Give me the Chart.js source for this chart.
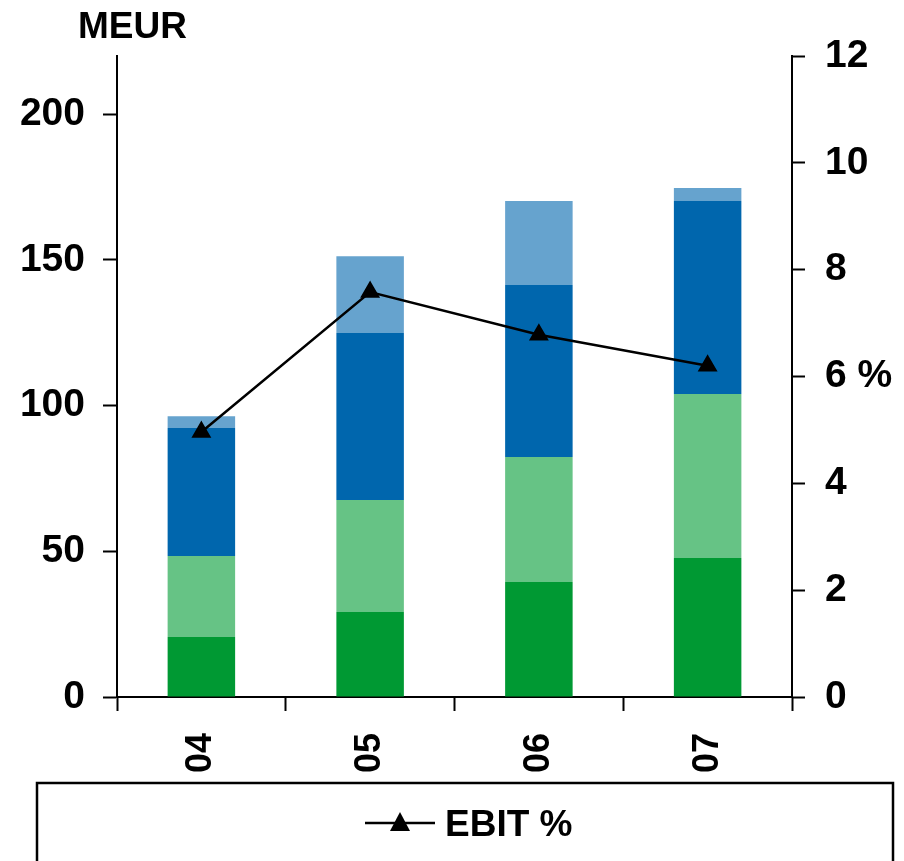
<!DOCTYPE html>
<html>
<head>
<meta charset="utf-8">
<script src="https://cdn.jsdelivr.net/npm/chart.js@4"></script>
<style>
  html, body { margin: 0; padding: 0; background: #fff; }
  #wrap { width: 904px; height: 861px; position: relative; }
</style>
</head>
<body>
<div id="wrap"><canvas id="chart"></canvas></div>
<script>
const years = ["04", "05", "06", "07"];
const darkGreen = [20.6, 29.2, 39.5, 47.7];
const lightGreen = [27.8, 38.4, 42.9, 56.3];
const darkBlue = [43.9, 57.3, 59.0, 66.2];
const lightBlue = [4.1, 26.4, 28.8, 4.5];
const ebitPct = [4.96, 7.58, 6.78, 6.2];

const leftTicks = [0, 50, 100, 150, 200];
const rightTicks = [0, 2, 4, 6, 8, 10, 12];

Chart.defaults.font.family = "'Liberation Sans', Arial, sans-serif";
Chart.defaults.font.weight = "bold";
Chart.defaults.color = "#000";

const tickFont = { size: 39, weight: "bold" };
const xFont = { size: 36, weight: "bold" };

const bar = (label, data, color) => ({
  type: "bar",
  label,
  data,
  backgroundColor: color,
  borderWidth: 0,
  yAxisID: "y",
  order: 1,
  barPercentage: 0.4,
  categoryPercentage: 1,
});

// "MEUR" label + legend box
const extras = {
  id: "extras",
  afterDraw(chart) {
    const ctx = chart.ctx;
    ctx.save();
    ctx.fillStyle = "#000";
    ctx.font = "bold 37px 'Liberation Sans', Arial";
    ctx.textBaseline = "alphabetic";
    ctx.textAlign = "left";
    ctx.fillText("MEUR", 78, 38);

    ctx.strokeStyle = "#000";
    ctx.lineWidth = 2.5;
    ctx.strokeRect(37, 783, 856, 120);

    const ds = chart.data.datasets[4];
    ctx.strokeStyle = ds.borderColor;
    ctx.lineWidth = ds.borderWidth;
    ctx.beginPath();
    ctx.moveTo(365, 823);
    ctx.lineTo(435, 823);
    ctx.stroke();
    ctx.fillStyle = ds.pointBackgroundColor;
    ctx.beginPath();
    ctx.moveTo(400, 812);
    ctx.lineTo(410, 831);
    ctx.lineTo(390, 831);
    ctx.closePath();
    ctx.fill();

    ctx.fillStyle = "#000";
    ctx.font = "bold 37px 'Liberation Sans', Arial";
    ctx.fillText(ds.label, 445, 836);
    ctx.restore();
  },
};

new Chart(document.getElementById("chart"), {
  data: {
    labels: years,
    datasets: [
      bar("a", darkGreen, "rgb(0,153,51)"),
      bar("b", lightGreen, "rgb(102,195,133)"),
      bar("c", darkBlue, "rgb(0,102,173)"),
      bar("d", lightBlue, "rgb(102,163,206)"),
      {
        type: "line",
        label: "EBIT %",
        data: ebitPct,
        yAxisID: "y1",
        order: 0,
        borderColor: "#000",
        borderWidth: 2.5,
        pointStyle: "triangle",
        pointRadius: 9,
        pointBackgroundColor: "#000",
        pointBorderColor: "#000",
        tension: 0,
      },
    ],
  },
  options: {
    responsive: true,
    maintainAspectRatio: false,
    animation: false,
    layout: { padding: { top: 56, bottom: 81, left: 0, right: 0 } },
    plugins: {
      legend: { display: false },
      tooltip: { enabled: false },
    },
    scales: {
      x: {
        stacked: true,
        afterFit: (s) => { s.height = 83; },
        border: { display: true, color: "#000", width: 2 },
        grid: {
          offset: true,
          drawOnChartArea: false,
          drawTicks: true,
          tickLength: 14,
          tickColor: "#000",
          tickWidth: 2,
        },
        ticks: {
          font: xFont,
          minRotation: 90,
          maxRotation: 90,
          autoSkip: false,
          padding: 22,
        },
      },
      y: {
        stacked: true,
        position: "left",
        min: 0,
        max: 220,
        afterFit: (s) => { s.width = 117; },
        afterBuildTicks: (s) => { s.ticks = leftTicks.map((v) => ({ value: v })); },
        border: { display: true, color: "#000", width: 2 },
        grid: {
          drawOnChartArea: false,
          drawTicks: true,
          tickLength: 14,
          tickColor: "#000",
          tickWidth: 2,
        },
        ticks: { font: tickFont, padding: 18, includeBounds: false },
      },
      y1: {
        position: "right",
        min: 0,
        max: 12,
        afterFit: (s) => { s.width = 112; },
        afterBuildTicks: (s) => { s.ticks = rightTicks.map((v) => ({ value: v })); },
        border: { display: true, color: "#000", width: 2 },
        grid: {
          drawOnChartArea: false,
          drawTicks: true,
          tickLength: 13,
          tickColor: "#000",
          tickWidth: 2,
        },
        ticks: {
          font: tickFont,
          padding: 20,
          callback: (v) => (v === 6 ? "6 %" : String(v)),
        },
      },
    },
  },
  plugins: [extras],
});
</script>
</body>
</html>
